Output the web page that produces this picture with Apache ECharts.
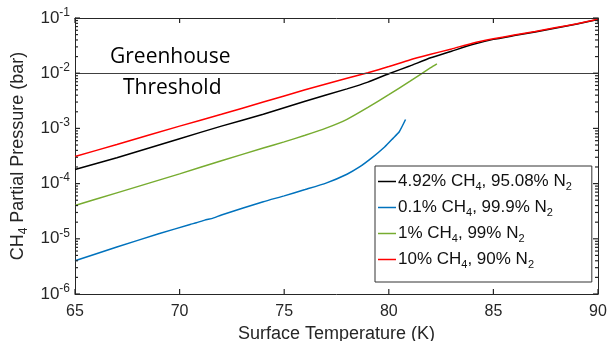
<!DOCTYPE html>
<html>
<head>
<meta charset="utf-8">
<script src="https://cdn.jsdelivr.net/npm/echarts@6/dist/echarts.min.js"></script>
<style>
  html, body { margin: 0; padding: 0; background: #fff; }
  #chart { width: 608px; height: 341px; }
</style>
</head>
<body>
<div id="chart"></div>
<script>
// Surface temperature (K) and CH4 partial pressure (bar) for each atmosphere mix
const tempMix492 = [65, 67, 70, 72, 74, 76, 78, 79, 80, 81, 82, 83, 84, 85, 86, 87, 88, 89, 90];
const pMix492 = [1.8e-4, 2.95e-4, 6.5e-4, 1.1e-3, 1.8e-3, 3.1e-3, 5.2e-3, 6.9e-3, 9.8e-3, 1.35e-2,
  1.9e-2, 2.5e-2, 3.3e-2, 4.1e-2, 4.8e-2, 5.6e-2, 6.6e-2, 7.8e-2, 9.4e-2];

const tempMix01 = [65, 67, 69, 70.5, 70.8, 71.2, 71.6, 72, 74, 75, 76, 77, 78, 78.6, 79.2, 79.8, 80.2, 80.5, 80.8];
const pMix01 = [4.0e-6, 7.1e-6, 1.23e-5, 1.82e-5, 1.95e-5, 2.18e-5, 2.37e-5, 2.7e-5, 4.7e-5, 6.0e-5,
  7.8e-5, 1.02e-4, 1.48e-4, 2.0e-4, 2.95e-4, 4.6e-4, 6.6e-4, 8.7e-4, 1.45e-3];

const tempMix1 = [65, 67, 70, 72, 74, 75, 76, 77, 78, 79, 80, 81, 82, 82.3];
const pMix1 = [4.0e-5, 6.8e-5, 1.5e-4, 2.6e-4, 4.4e-4, 5.7e-4, 7.5e-4, 1.01e-3, 1.46e-3, 2.4e-3,
  4.1e-3, 7.1e-3, 1.26e-2, 1.48e-2];

const tempMix10 = [65, 67, 70, 72, 74, 76, 78, 79, 80, 81, 82, 83, 84, 85, 86, 87, 88, 89, 90];
const pMix10 = [3.1e-4, 5.1e-4, 1.1e-3, 1.8e-3, 3.0e-3, 5.0e-3, 8.1e-3, 1.02e-2, 1.32e-2, 1.74e-2,
  2.2e-2, 2.75e-2, 3.5e-2, 4.2e-2, 4.9e-2, 5.7e-2, 6.7e-2, 7.9e-2, 9.5e-2];

// Legend entries (rich text: t = normal, u = subscript)
const mixNames = ['mix492', 'mix01', 'mix1', 'mix10'];
const mixLabels = [
  '{t|4.92% CH}{u|4}{t|, 95.08% N}{u|2}',
  '{t|0.1% CH}{u|4}{t|, 99.9% N}{u|2}',
  '{t|1% CH}{u|4}{t|, 99% N}{u|2}',
  '{t|10% CH}{u|4}{t|, 90% N}{u|2}'
];
const mixColors = ['#000000', '#0072BD', '#77AC30', '#FF0000'];

// Axis ranges, tick positions and threshold
const tempMin = 65, tempMax = 90, tempStep = 5;
const pMin = 1e-6, pMax = 1e-1;
const greenhouseThreshold = 1e-2;
const tempTicks = [65, 70, 75, 80, 85, 90];
const pressureDecades = [1e-6, 1e-5, 1e-4, 1e-3, 1e-2, 1e-1];
const minorSteps = [2, 3, 4, 5, 6, 7, 8, 9];

const axisColor = '#262626';
const labelFont = "'Liberation Sans', Arial, Helvetica, sans-serif";

function zip(xs, ys) { return xs.map(function (x, i) { return [x, ys[i]]; }); }

const chart = echarts.init(document.getElementById('chart'), null, { renderer: 'canvas' });

const lineSeries = [
  [tempMix492, pMix492], [tempMix01, pMix01], [tempMix1, pMix1], [tempMix10, pMix10]
].map(function (pair, i) {
  return {
    name: mixNames[i],
    type: 'line',
    data: zip(pair[0], pair[1]),
    symbol: 'none',
    smooth: 0.15,
    lineStyle: { color: mixColors[i], width: 1.5 },
    itemStyle: { color: mixColors[i] },
    z: 3
  };
});

// Horizontal greenhouse threshold line
lineSeries[0].markLine = {
  silent: true,
  symbol: 'none',
  label: { show: false },
  lineStyle: { color: '#404040', type: 'solid', width: 1 },
  data: [{ yAxis: greenhouseThreshold }]
};

function powerLabel(v) {
  return '{b|10}{s|' + Math.round(Math.log10(v)) + '}';
}

const option = {
  animation: false,
  backgroundColor: '#ffffff',
  grid: { left: 75, right: 10, top: 18, bottom: 47, outerBoundsMode: 'none', containLabel: false },
  legend: {
    data: mixNames,
    orient: 'vertical',
    left: 375,
    top: 166,
    padding: [7, 20, 12, 3],
    itemGap: 7,
    icon: 'rect',
    itemWidth: 18,
    itemHeight: 1.5,
    borderColor: '#333333',
    borderWidth: 1,
    backgroundColor: '#ffffff',
    formatter: function (name) { return mixLabels[mixNames.indexOf(name)]; },
    textStyle: {
      padding: [0, 0, 0, -3],
      rich: {
        t: { fontSize: 17, fontFamily: labelFont, color: '#111' },
        u: { fontSize: 11, fontFamily: labelFont, color: '#111', padding: [10, 0, 0, 0] }
      }
    }
  },
  xAxis: [{
    type: 'value',
    min: tempMin, max: tempMax, interval: tempStep,
    name: 'Surface Temperature (K)',
    nameLocation: 'middle',
    nameGap: 27,
    nameTextStyle: { fontSize: 18, fontFamily: labelFont, color: axisColor },
    axisLine: { show: true, lineStyle: { color: axisColor, width: 1 } },
    axisTick: { show: false },
    axisLabel: { fontSize: 16, fontFamily: labelFont, color: axisColor, margin: 10 },
    splitLine: { show: false }
  }, {
    type: 'value',
    position: 'top',
    min: tempMin, max: tempMax, interval: tempStep,
    axisLine: { show: true, lineStyle: { color: axisColor, width: 1 } },
    axisTick: { show: false },
    axisLabel: { show: false },
    splitLine: { show: false }
  }],
  yAxis: [{
    type: 'log',
    logBase: 10,
    min: pMin, max: pMax,
    name: '{t|CH}{u|4}{t| Partial Pressure (bar)}',
    nameLocation: 'middle',
    nameGap: 42,
    nameTextStyle: {
      rich: {
        t: { fontSize: 18, fontFamily: labelFont, color: axisColor },
        u: { fontSize: 12, fontFamily: labelFont, color: axisColor, padding: [10, 0, 0, 0] }
      }
    },
    axisLine: { show: true, lineStyle: { color: axisColor, width: 1 } },
    axisTick: { show: false },
    axisLabel: {
      formatter: powerLabel,
      margin: 5,
      rich: {
        b: { fontSize: 17, fontFamily: labelFont, color: axisColor },
        s: { fontSize: 12, fontFamily: labelFont, color: axisColor, padding: [0, 0, 11, 0] }
      }
    },
    splitLine: { show: false }
  }, {
    type: 'log',
    logBase: 10,
    position: 'right',
    min: pMin, max: pMax,
    axisLine: { show: true, lineStyle: { color: axisColor, width: 1 } },
    axisTick: { show: false },
    axisLabel: { show: false },
    splitLine: { show: false }
  }],
  series: lineSeries
};

chart.setOption(option);

// Inward tick marks on all four sides of the box, placed through the grid's scales
function tickLine(x1, y1, x2, y2) {
  return {
    type: 'line', silent: true, z: 100,
    shape: { x1: x1, y1: y1, x2: x2, y2: y2 },
    style: { stroke: axisColor, lineWidth: 1.2 }
  };
}
function toPx(t, p) { return chart.convertToPixel({ gridIndex: 0 }, [t, p]); }

const tickElements = [];
tempTicks.forEach(function (t) {
  const b = toPx(t, pMin), top = toPx(t, pMax);
  tickElements.push(tickLine(b[0], b[1], b[0], b[1] - 5));
  tickElements.push(tickLine(top[0], top[1], top[0], top[1] + 5));
});
pressureDecades.forEach(function (d, i) {
  const l = toPx(tempMin, d), r = toPx(tempMax, d);
  tickElements.push(tickLine(l[0], l[1], l[0] + 5, l[1]));
  tickElements.push(tickLine(r[0] - 5, r[1], r[0], r[1]));
  if (i < pressureDecades.length - 1) {
    minorSteps.forEach(function (k) {
      const ml = toPx(tempMin, k * d), mr = toPx(tempMax, k * d);
      tickElements.push(tickLine(ml[0], ml[1], ml[0] + 3, ml[1]));
      tickElements.push(tickLine(mr[0] - 3, mr[1], mr[0], mr[1]));
    });
  }
});

// Annotation for the threshold line
const thresholdText = [
  { type: 'text', left: 110, top: 47, style: { text: 'Greenhouse', font: "21px 'Open Sans', sans-serif", fill: '#000' } },
  { type: 'text', left: 123, top: 78, style: { text: 'Threshold', font: "21px 'Open Sans', sans-serif", fill: '#000' } }
];

chart.setOption({ graphic: { elements: thresholdText.concat(tickElements) } });
</script>
</body>
</html>
